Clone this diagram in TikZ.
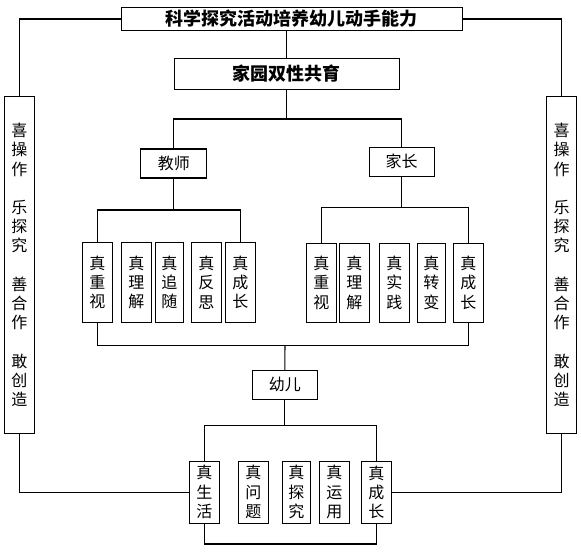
\documentclass[tikz,border=0pt]{standalone}
\usepackage{fontspec}
\newfontfamily\cjk{Noto Sans CJK SC}
\begin{document}
\begin{tikzpicture}[x=0.75pt,y=-0.75pt,
  line width=0.8pt,
  bx/.style={draw, line width=0.8pt, inner sep=0pt, align=center,
    font=\cjk\fontsize{12}{14.5}\selectfont},
  hbx/.style={bx, font=\cjk\bfseries\fontsize{13.5}{16}\selectfont},
  vbx/.style={bx, minimum width=22.5pt},
  sbx/.style={bx, minimum width=22.5pt, minimum height=252.6pt,
    font=\cjk\fontsize{12}{14.4}\selectfont},
  mbx/.style={bx, minimum height=21.75pt}]
\useasboundingbox[fill=white] (0,0) rectangle (581,554);

% top level
\node[hbx, minimum width=255.2pt, minimum height=17pt] (title) at (291.9,19) {科学探究活动培养幼儿动手能力};
\node[hbx, minimum width=168.5pt, minimum height=23.25pt] (jy) at (286.7,73.8) {家园双性共育};

% side boxes
\node[sbx] (L) at (19.3,264.9) {喜\\操\\作\\~\\乐\\探\\究\\~\\善\\合\\作\\~\\敢\\创\\造};
\node[sbx] (R) at (561.6,264.9) {喜\\操\\作\\~\\乐\\探\\究\\~\\善\\合\\作\\~\\敢\\创\\造};

% second level
\node[mbx, minimum width=49.3pt] (teacher) at (173.8,163.5) {教师};
\node[mbx, minimum width=49pt] (parent) at (401.7,161.8) {家长};

% teacher items
\node[vbx, minimum height=59.9pt] (t1) at (97.3,282.4) {真\\重\\视};
\node[vbx, minimum height=59.9pt] (t2) at (136.3,282.4) {真\\理\\解};
\node[vbx, minimum height=59.9pt, minimum width=21pt] (t3) at (169.3,282.4) {真\\追\\随};
\node[vbx, minimum height=59.9pt] (t4) at (206.3,282.4) {真\\反\\思};
\node[vbx, minimum height=59.9pt] (t5) at (240.3,282.4) {真\\成\\长};

% parent items
\node[vbx, minimum height=59pt] (p1) at (321.3,282.7) {真\\重\\视};
\node[vbx, minimum height=59pt] (p2) at (354.3,282.7) {真\\理\\解};
\node[vbx, minimum height=59pt] (p3) at (394.3,282.7) {真\\实\\践};
\node[vbx, minimum height=59pt, minimum width=21pt] (p4) at (431.3,282.7) {真\\转\\变};
\node[vbx, minimum height=59pt] (p5) at (468.3,282.7) {真\\成\\长};

% child
\node[mbx, minimum width=48.75pt] (child) at (284.8,384.8) {幼儿};
\node[vbx, minimum height=46.5pt] (c1) at (204.3,492.2) {真\\生\\活};
\node[vbx, minimum height=46.5pt] (c2) at (253.3,492.2) {真\\问\\题};
\node[vbx, minimum height=46.5pt, minimum width=21pt] (c3) at (296.3,492.2) {真\\探\\究};
\node[vbx, minimum height=46.5pt] (c4) at (334.3,492.2) {真\\运\\用};
\node[vbx, minimum height=46.5pt] (c5) at (376.3,492.2) {真\\成\\长};

% bus coordinates
\coordinate (bus1) at (286.7,119);
\coordinate (bus2) at (173.8,210);
\coordinate (bus3) at (401.7,207.3);
\coordinate (bus4) at (285,345.3);
\coordinate (bus5) at (284.8,425.3);
\coordinate (bus6) at (290,544);

% connectors
\draw (title.west) -| (L.north);
\draw (title.east) -| (R.north);
\draw (jy.north) -- (jy.north |- title.south);
\draw (jy.south) -- (jy.south |- bus1);
\draw (teacher.north) |- (bus1) -| (parent.north);
\draw (teacher.south) -- (bus2);
\draw (t1.north) |- (bus2) -| (t5.north);
\draw (parent.south) -- (bus3);
\draw (p1.north) |- (bus3) -| (p5.north);
\draw (t1.south) |- (bus4) -| (p5.south);
\draw (bus4) -- (child.north);
\draw (child.south) -- (bus5);
\draw (c1.north) |- (bus5) -| (c5.north);
\draw (L.south) |- (c1.west);
\draw (R.south) |- (c5.east);
\draw (c1.south) |- (bus6) -| (c5.south);
\end{tikzpicture}
\end{document}
